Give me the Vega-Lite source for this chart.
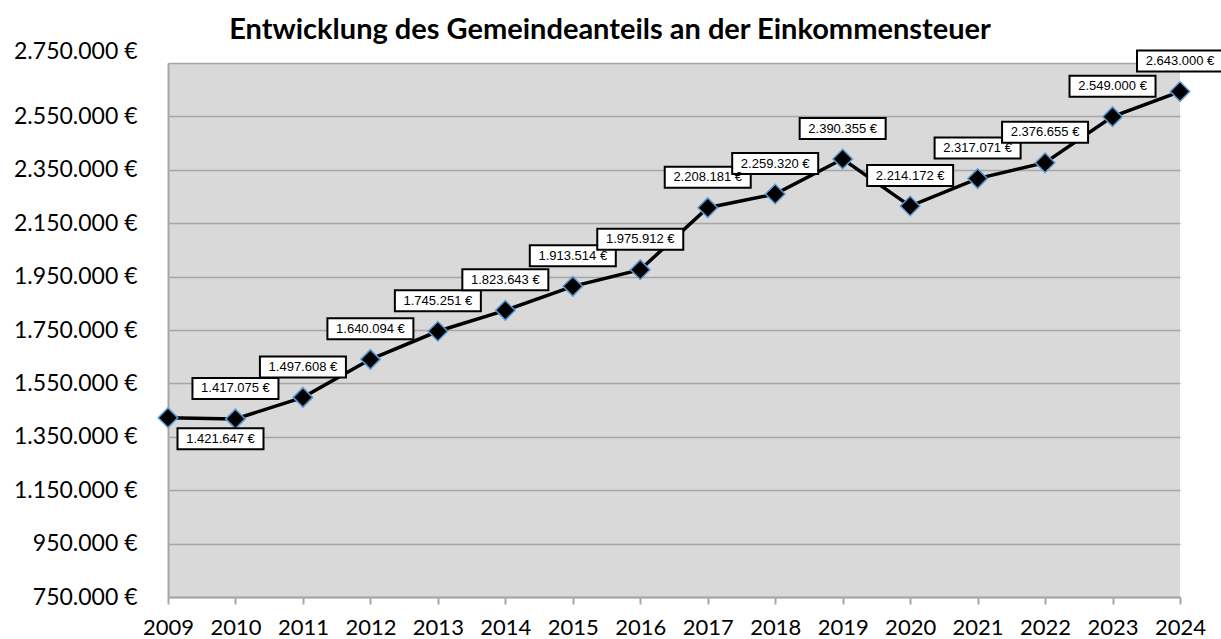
{
  "$schema": "https://vega.github.io/schema/vega-lite/v6.json",
  "width": 1012,
  "height": 534,
  "autosize": {"type": "none"},
  "padding": {"left": 168, "top": 63, "right": 41, "bottom": 42},
  "background": "white",
  "title": {
    "text": "Entwicklung des Gemeindeanteils an der Einkommensteuer",
    "font": "Lato",
    "fontSize": 29,
    "fontWeight": "bold",
    "color": "black",
    "anchor": "middle",
    "dx": -64,
    "offset": -5
  },
  "config": {
    "locale": {"number": {"decimal": ",", "thousands": ".", "grouping": [3], "currency": ["", " €"]}},
    "view": {"fill": "#d9d9d9", "stroke": null}
  },
  "data": {
    "values": [
      {"year": 2009, "value": 1421647},
      {"year": 2010, "value": 1417075},
      {"year": 2011, "value": 1497608},
      {"year": 2012, "value": 1640094},
      {"year": 2013, "value": 1745251},
      {"year": 2014, "value": 1823643},
      {"year": 2015, "value": 1913514},
      {"year": 2016, "value": 1975912},
      {"year": 2017, "value": 2208181},
      {"year": 2018, "value": 2259320},
      {"year": 2019, "value": 2390355},
      {"year": 2020, "value": 2214172},
      {"year": 2021, "value": 2317071},
      {"year": 2022, "value": 2376655},
      {"year": 2023, "value": 2549000},
      {"year": 2024, "value": 2643000}
    ]
  },
  "encoding": {
    "x": {
      "field": "year",
      "type": "quantitative",
      "scale": {"domain": [2009, 2024], "nice": false, "zero": false},
      "axis": {
        "title": null,
        "values": [2009, 2010, 2011, 2012, 2013, 2014, 2015, 2016, 2017, 2018, 2019, 2020, 2021, 2022, 2023, 2024],
        "format": "d",
        "grid": false,
        "labelOverlap": false,
        "labelFlush": false,
        "domainColor": "#a6a6a6",
        "domainWidth": 2,
        "tickColor": "#a6a6a6",
        "tickWidth": 2,
        "tickSize": 7,
        "labelPadding": 13,
        "labelFont": "Lato",
        "labelFontSize": 22,
        "labelColor": "black"
      }
    },
    "y": {
      "field": "value",
      "type": "quantitative",
      "scale": {"domain": [750000, 2750000], "nice": false, "zero": false},
      "axis": {
        "title": null,
        "values": [750000, 950000, 1150000, 1350000, 1550000, 1750000, 1950000, 2150000, 2350000, 2550000, 2750000],
        "format": "$,.0f",
        "grid": true,
        "gridColor": "#a6a6a6",
        "gridWidth": 1.5,
        "domainColor": "#a6a6a6",
        "domainWidth": 2,
        "ticks": false,
        "labelOverlap": false,
        "labelFlush": false,
        "labelPadding": 31,
        "labelFont": "Lato",
        "labelFontSize": 23,
        "labelColor": "black",
        "labelOffset": {"condition": {"test": "datum.value === 2750000", "value": -12}, "value": 0}
      }
    }
  },
  "layer": [
    {"mark": {"type": "line", "color": "black", "strokeWidth": 3.5}},
    {"mark": {"type": "point", "shape": "diamond", "filled": true, "fill": "black", "stroke": "#5b9bd5", "strokeWidth": 1.5, "size": 380, "opacity": 1}},
    {
      "transform": [{"filter": "datum.year !== 2009"}],
      "mark": {"type": "point", "shape": "M-1,-0.244L1,-0.244L1,0.244L-1,0.244Z", "size": 7396, "filled": true, "fill": "white", "stroke": "black", "strokeWidth": 2, "opacity": 1, "yOffset": -30.5}
    },
    {
      "transform": [{"filter": "datum.year !== 2009"}],
      "mark": {"type": "text", "font": "Liberation Sans", "fontSize": 13, "color": "black", "align": "center", "baseline": "middle", "yOffset": -30.5},
      "encoding": {"text": {"field": "value", "type": "quantitative", "format": "$,.0f"}}
    },
    {
      "transform": [{"filter": "datum.year === 2009"}],
      "mark": {"type": "point", "shape": "M-1,-0.244L1,-0.244L1,0.244L-1,0.244Z", "size": 7396, "filled": true, "fill": "white", "stroke": "black", "strokeWidth": 2, "opacity": 1, "xOffset": 52.5, "yOffset": 21}
    },
    {
      "transform": [{"filter": "datum.year === 2009"}],
      "mark": {"type": "text", "font": "Liberation Sans", "fontSize": 13, "color": "black", "align": "center", "baseline": "middle", "xOffset": 52.5, "yOffset": 21},
      "encoding": {"text": {"field": "value", "type": "quantitative", "format": "$,.0f"}}
    }
  ]
}
